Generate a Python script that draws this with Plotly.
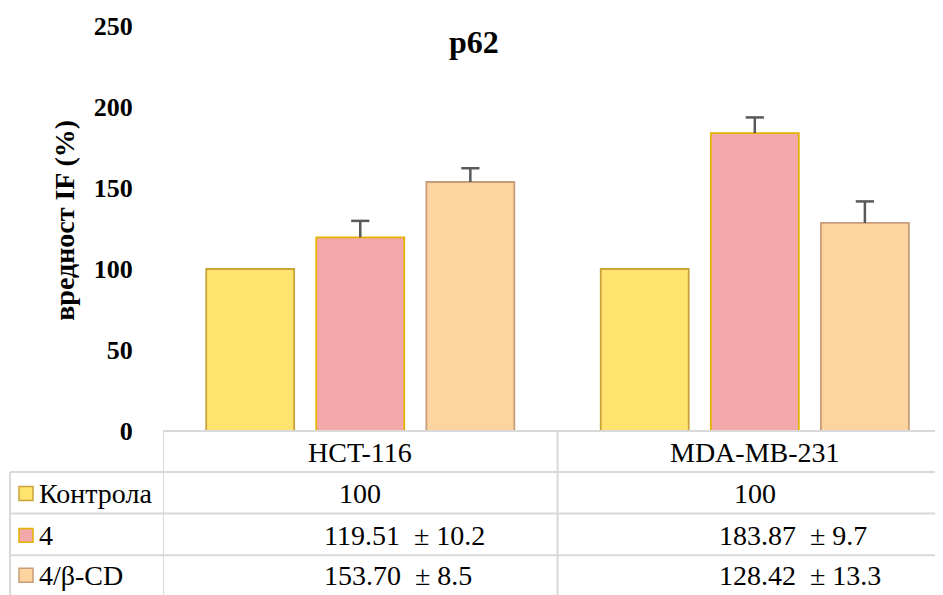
import plotly.graph_objects as go

# ---- data ----
categories = ["HCT-116", "MDA-MB-231"]
series_names = ["Контрола", "4", "4/β-CD"]
control_vals = [100, 100]
c4_vals = [119.51, 183.87]
c4_errs = [10.2, 9.7]
cd_vals = [153.70, 128.42]
cd_errs = [8.5, 13.3]
y_ticks = [0, 50, 100, 150, 200, 250]
title_text = "p62"
y_title = "вредност IF (%)"

# ---- styling ----
OFF = 8  # page body margin
W, H = 943 - OFF, 595 - OFF
SX0, SX1, SY0, SY1 = 163, 943, 26, 431.5
L, T = SX0 - OFF, SY0 - OFF
R, B = 0, H - (SY1 - OFF)
PW, PH = W - L - R, H - T - B
FONT = "Liberation Serif"
fills = ["#FFE36F", "#F3A9A9", "#FDD4A0"]
edges = ["#C9A43A", "#E2B300", "#C69D78"]
GRID = "#D9D9D9"
ERR = "#595959"
SLOT = 0.279
BARW = 0.223


def px(xs):
    return (xs - OFF - L) / PW


def py(ys):
    return (H - B - (ys - OFF)) / PH


fig = go.Figure()
xpos = list(range(len(categories)))
vals_list = [control_vals, c4_vals, cd_vals]
errs_list = [None, c4_errs, cd_errs]
for k, (name, vals, errs, fc, ec) in enumerate(zip(series_names, vals_list, errs_list, fills, edges)):
    dx = (k - 1) * SLOT
    fig.add_trace(go.Bar(x=xpos, y=vals, name=name, width=BARW, offset=dx - BARW / 2,
                         marker=dict(color=fc, line=dict(color=ec, width=1.8)),
                         showlegend=False))
    if errs is not None:
        fig.add_trace(go.Scatter(
            x=[x + dx for x in xpos], y=[v + e for v, e in zip(vals, errs)],
            mode="markers", showlegend=False, hoverinfo="skip",
            marker=dict(symbol="line-ew-open", size=13, color=ERR, line=dict(color=ERR, width=2.5)),
            error_y=dict(type="data", array=[0] * len(errs), arrayminus=errs, symmetric=False,
                         color=ERR, thickness=2.5, width=0)))

shapes = []
line = dict(color=GRID, width=2)
shapes.append(dict(type="line", xref="paper", yref="paper", x0=0, x1=1, y0=py(431.5), y1=py(431.5), line=line))
for yy in [472.5, 514, 556]:
    shapes.append(dict(type="line", xref="paper", yref="paper", x0=px(10), x1=1, y0=py(yy), y1=py(yy), line=line))
shapes.append(dict(type="line", xref="paper", yref="paper", x0=px(10), x1=px(10), y0=py(472.5), y1=py(610), line=line))
for xv in [-0.5, 0.5]:
    shapes.append(dict(type="line", xref="x", yref="paper", x0=xv, x1=xv, y0=py(431.5), y1=py(610), line=line))

annotations = []
row_y = [494, 536, 576]
tfont = dict(family=FONT, size=28, color="#000", weight="normal")
for i, (name, fc, ec) in enumerate(zip(series_names, fills, edges)):
    yc = row_y[i]
    shapes.append(dict(type="rect", xref="paper", yref="paper",
                       x0=px(19), x1=px(33), y0=py(yc - 7), y1=py(yc + 7),
                       fillcolor=fc, line=dict(color=ec, width=1.5)))
    annotations.append(dict(text=name, xref="paper", yref="paper", x=px(37), y=py(yc),
                            xanchor="left", yanchor="middle", showarrow=False, font=dict(tfont)))
for ci, cat in enumerate(categories):
    annotations.append(dict(text=cat, xref="x", yref="paper", x=ci, y=py(453),
                            xanchor="center", yanchor="middle", showarrow=False, font=dict(tfont)))
    annotations.append(dict(text=f"{control_vals[ci]:g}", xref="x", yref="paper", x=ci, y=py(row_y[0]),
                            xanchor="center", yanchor="middle", showarrow=False, font=dict(tfont)))
    for ri, (vals, errs) in enumerate([(c4_vals, c4_errs), (cd_vals, cd_errs)]):
        annotations.append(dict(text=f"{vals[ci]:.2f}\u00a0\u00a0± {errs[ci]:g}", xref="x", yref="paper",
                                x=ci - 0.097, y=py(row_y[ri + 1]),
                                xanchor="left", yanchor="middle", showarrow=False, font=dict(tfont)))

annotations.append(dict(text=title_text, xref="paper", yref="paper", x=px(474), y=py(42),
                        xanchor="center", yanchor="middle", showarrow=False,
                        font=dict(family=FONT, size=32, color="#000", weight="bold")))
annotations.append(dict(text=y_title, xref="paper", yref="paper", x=px(65), y=py(221),
                        xanchor="center", yanchor="middle", textangle=-90, showarrow=False,
                        font=dict(family=FONT, size=28, color="#000", weight="bold")))

fig.update_layout(
    width=W, height=H,
    margin=dict(l=L, r=R, t=T, b=B, autoexpand=False),
    paper_bgcolor="white", plot_bgcolor="white",
    font=dict(family=FONT),
    xaxis=dict(range=[-0.5, 1.477], showticklabels=False, showgrid=False,
               zeroline=False, showline=False, ticks=""),
    yaxis=dict(range=[0, 250], tickvals=y_ticks, showgrid=False, zeroline=False,
               showline=False, ticks="outside", ticklen=24, tickcolor="rgba(0,0,0,0)",
               tickfont=dict(family=FONT, size=26, color="#000", weight="bold")),
    shapes=shapes, annotations=annotations,
)

fig.write_html("out.html")
